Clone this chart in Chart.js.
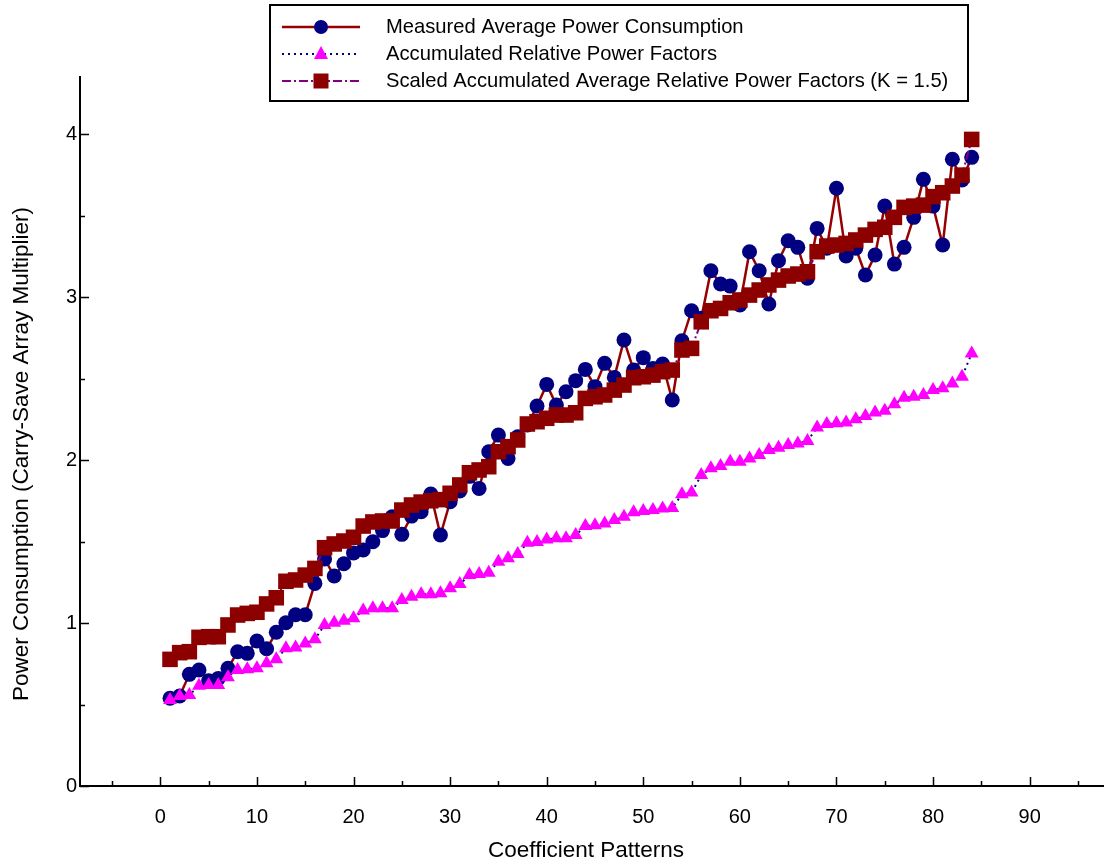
<!DOCTYPE html>
<html>
<head>
<meta charset="utf-8">
<script src="https://cdn.jsdelivr.net/npm/chart.js@4.4.1/dist/chart.umd.min.js"></script>
<style>
  html, body { margin: 0; padding: 0; background: #ffffff; }
  #wrap { width: 1104px; height: 866px; position: relative; }
</style>
</head>
<body>
<div id="wrap"><canvas id="c" width="1104" height="866"></canvas></div>
<script>
// ---------- data ----------
const patterns = [1,2,3,4,5,6,7,8,9,10,11,12,13,14,15,16,17,18,19,20,21,22,23,24,25,26,27,28,29,30,
  31,32,33,34,35,36,37,38,39,40,41,42,43,44,45,46,47,48,49,50,51,52,53,54,55,56,57,58,59,60,
  61,62,63,64,65,66,67,68,69,70,71,72,73,74,75,76,77,78,79,80,81,82,83,84];

const measured = [0.538,0.552,0.685,0.712,0.646,0.660,0.722,0.824,0.814,0.890,
  0.842,0.943,1.002,1.051,1.051,1.243,1.393,1.288,1.364,1.430,
  1.448,1.499,1.567,1.652,1.544,1.656,1.683,1.791,1.540,1.744,
  1.810,1.900,1.826,2.051,2.153,2.010,2.143,2.215,2.331,2.464,
  2.337,2.419,2.487,2.556,2.450,2.593,2.507,2.736,2.552,2.628,
  2.562,2.589,2.368,2.732,2.916,2.870,3.161,3.080,3.067,2.951,
  3.278,3.161,2.957,3.223,3.345,3.305,3.115,3.421,3.300,3.667,
  3.252,3.300,3.135,3.258,3.558,3.202,3.305,3.489,3.722,3.558,
  3.319,3.845,3.718,3.857];

const relativeFactors = [0.528,0.552,0.558,0.615,0.620,0.620,0.667,0.712,0.716,0.722,
  0.753,0.777,0.845,0.850,0.875,0.900,0.988,1.002,1.014,1.029,
  1.076,1.090,1.090,1.090,1.141,1.161,1.176,1.176,1.182,1.213,
  1.239,1.294,1.300,1.309,1.376,1.397,1.423,1.493,1.497,1.513,
  1.520,1.520,1.540,1.595,1.600,1.610,1.632,1.652,1.679,1.687,
  1.693,1.703,1.706,1.790,1.800,1.908,1.949,1.963,1.990,1.990,
  2.010,2.031,2.061,2.076,2.092,2.102,2.117,2.200,2.221,2.225,
  2.230,2.250,2.270,2.292,2.303,2.342,2.382,2.388,2.399,2.429,
  2.440,2.470,2.511,2.654];

const scaledFactors = [0.777,0.818,0.824,0.912,0.916,0.916,0.988,1.049,1.059,1.066,
  1.117,1.155,1.256,1.264,1.294,1.335,1.462,1.485,1.503,1.526,
  1.595,1.620,1.626,1.626,1.693,1.724,1.742,1.750,1.757,1.796,
  1.847,1.922,1.939,1.959,2.051,2.082,2.123,2.221,2.235,2.256,
  2.276,2.276,2.290,2.378,2.388,2.399,2.429,2.460,2.505,2.511,
  2.521,2.542,2.552,2.675,2.685,2.848,2.916,2.930,2.965,2.982,
  3.012,3.043,3.074,3.104,3.129,3.141,3.155,3.278,3.313,3.319,
  3.329,3.350,3.380,3.415,3.428,3.489,3.550,3.558,3.564,3.616,
  3.640,3.681,3.748,3.967];

const seriesNames = [
  'Measured Average Power Consumption',
  'Accumulated Relative Power Factors',
  'Scaled Accumulated Average Relative Power Factors (K = 1.5)'
];
const xTickValues = [0,10,20,30,40,50,60,70,80,90];
const xMinorTicks = [-5,5,15,25,35,45,55,65,75,85,95];
const yTickValues = [0,1,2,3,4];
const yMinorTicks = [0.5,1.5,2.5,3.5];
const xTitle = 'Coefficient Patterns';
const yTitle = 'Power Consumption (Carry-Save Array Multiplier)';

// ---------- styles ----------
const FONT = '"Liberation Sans", Arial, Helvetica, sans-serif';
const C_RED = '#960000';
const C_SQ = '#8c0000';
const C_NAVY = '#000080';
const C_MAG = '#ff00ff';
const C_PURP = '#800080';

const toXY = (ys) => patterns.map((x, i) => ({ x: x, y: ys[i] }));

const insideTicks = {
  id: 'insideTicks',
  afterDatasetsDraw(chart) {
    const ctx = chart.ctx, xs = chart.scales.x, ys = chart.scales.y;
    const a = chart.chartArea;
    ctx.save();
    ctx.strokeStyle = '#000';
    ctx.lineWidth = 1.5;
    ctx.beginPath();
    xTickValues.forEach(v => { const p = Math.round(xs.getPixelForValue(v)) + 0.5; ctx.moveTo(p, a.bottom); ctx.lineTo(p, a.bottom - 9); });
    xMinorTicks.forEach(v => { const p = Math.round(xs.getPixelForValue(v)) + 0.5; if (p < a.right) { ctx.moveTo(p, a.bottom); ctx.lineTo(p, a.bottom - 5); } });
    yTickValues.forEach(v => { const p = Math.round(ys.getPixelForValue(v)) + 0.5; ctx.moveTo(a.left, p); ctx.lineTo(a.left + 9, p); });
    yMinorTicks.forEach(v => { const p = Math.round(ys.getPixelForValue(v)) + 0.5; ctx.moveTo(a.left, p); ctx.lineTo(a.left + 5, p); });
    ctx.stroke();

    // axis titles
    ctx.fillStyle = '#000';
    ctx.font = '22.5px ' + FONT;
    ctx.textAlign = 'center';
    ctx.textBaseline = 'middle';
    ctx.fillText(xTitle, 586, 851);
    ctx.translate(22, 454);
    ctx.rotate(-Math.PI / 2);
    ctx.fillText(yTitle, 0, 0);
    ctx.restore();
  }
};

const boxLegend = {
  id: 'boxLegend',
  afterDraw(chart) {
    const ctx = chart.ctx;
    const bx = 270, by = 5, bw = 698, bh = 96;
    ctx.save();
    ctx.fillStyle = '#fff';
    ctx.fillRect(bx, by, bw, bh);
    ctx.strokeStyle = '#000';
    ctx.lineWidth = 2;
    ctx.strokeRect(bx, by, bw, bh);
    const rows = [27, 54, 81];
    const x0 = 282, x1 = 360, xm = 321;
    // row 1
    ctx.lineWidth = 2.5; ctx.strokeStyle = C_RED; ctx.setLineDash([]);
    ctx.beginPath(); ctx.moveTo(x0, rows[0]); ctx.lineTo(x1, rows[0]); ctx.stroke();
    ctx.fillStyle = C_NAVY; ctx.beginPath(); ctx.arc(xm, rows[0], 7, 0, Math.PI * 2); ctx.fill();
    // row 2
    ctx.lineWidth = 2; ctx.strokeStyle = C_NAVY; ctx.setLineDash([2, 4]);
    ctx.beginPath(); ctx.moveTo(x0, rows[1]); ctx.lineTo(x1, rows[1]); ctx.stroke();
    ctx.setLineDash([]);
    ctx.fillStyle = C_MAG; ctx.beginPath();
    ctx.moveTo(xm, rows[1] - 8); ctx.lineTo(xm + 7, rows[1] + 5); ctx.lineTo(xm - 7, rows[1] + 5); ctx.closePath(); ctx.fill();
    // row 3
    ctx.lineWidth = 2; ctx.strokeStyle = C_PURP; ctx.setLineDash([9, 3, 2, 3]);
    ctx.beginPath(); ctx.moveTo(x0, rows[2]); ctx.lineTo(x1, rows[2]); ctx.stroke();
    ctx.setLineDash([]);
    ctx.fillStyle = C_SQ; ctx.fillRect(xm - 7.5, rows[2] - 7.5, 15, 15);
    // texts
    ctx.fillStyle = '#000';
    ctx.font = '20.2px ' + FONT;
    ctx.textAlign = 'left';
    ctx.textBaseline = 'middle';
    seriesNames.forEach((t, i) => ctx.fillText(t, 386, rows[i]));
    ctx.restore();
  }
};

new Chart(document.getElementById('c'), {
  type: 'line',
  data: {
    datasets: [
      {
        label: seriesNames[2],
        data: toXY(scaledFactors),
        borderColor: C_PURP, borderWidth: 2, borderDash: [9, 3, 2, 3],
        pointStyle: 'rect', pointRadius: 11, pointBackgroundColor: C_SQ, pointBorderWidth: 0, pointBorderColor: C_SQ,
        order: 0, tension: 0
      },
      {
        label: seriesNames[1],
        data: toXY(relativeFactors),
        borderColor: C_NAVY, borderWidth: 2, borderDash: [2, 4],
        pointStyle: 'triangle', pointRadius: 8, pointBackgroundColor: C_MAG, pointBorderWidth: 0, pointBorderColor: C_MAG,
        order: 1, tension: 0
      },
      {
        label: seriesNames[0],
        data: toXY(measured),
        borderColor: C_RED, borderWidth: 2.5,
        pointStyle: 'circle', pointRadius: 7.5, pointBackgroundColor: C_NAVY, pointBorderWidth: 0, pointBorderColor: C_NAVY,
        order: 2, tension: 0
      }
    ]
  },
  options: {
    responsive: false,
    animation: false,
    devicePixelRatio: 1,
    layout: { autoPadding: false, padding: { top: 77, right: 0, left: 0, bottom: 0 } },
    plugins: { legend: { display: false }, tooltip: { enabled: false } },
    scales: {
      x: {
        type: 'linear',
        min: -8.32, max: 97.7,
        afterBuildTicks: (s) => { s.ticks = xTickValues.map(v => ({ value: v })); },
        afterFit: (s) => { s.height = 80; s.paddingLeft = 0; s.paddingRight = 0; },
        grid: { display: true, drawOnChartArea: false, drawTicks: false },
        border: { display: true, color: '#000', width: 2 },
        ticks: { color: '#000', font: { family: FONT, size: 20 }, padding: 19, maxRotation: 0, autoSkip: false }
      },
      y: {
        type: 'linear',
        min: 0, max: 4.35,
        afterBuildTicks: (s) => { s.ticks = yTickValues.map(v => ({ value: v })); },
        afterFit: (s) => { s.width = 80; s.paddingTop = 0; s.paddingBottom = 0; },
        grid: { display: true, drawOnChartArea: false, drawTicks: false },
        border: { display: true, color: '#000', width: 2 },
        ticks: { color: '#000', font: { family: FONT, size: 20 }, padding: 3, autoSkip: false }
      }
    }
  },
  plugins: [insideTicks, boxLegend]
});
</script>
</body>
</html>
